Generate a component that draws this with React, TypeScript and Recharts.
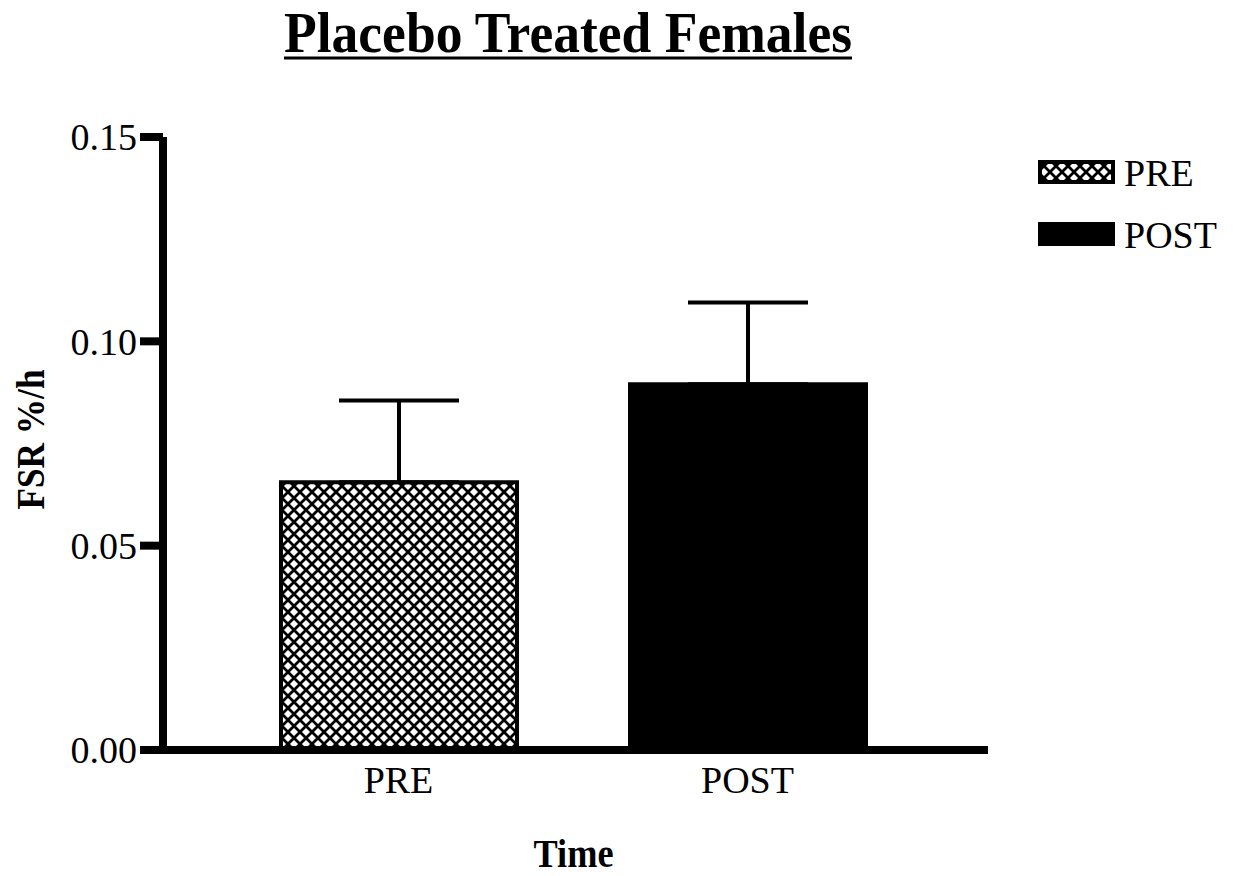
import React from 'react';
import { BarChart, Bar, XAxis, YAxis, ErrorBar, Legend, Cell } from 'recharts';

const categories = ['PRE', 'POST'];
const means = [0.0655, 0.0895];
const errors = [0.020, 0.020];
const yTicks = [0, 0.05, 0.1, 0.15];
const fills = ['url(#crosshatch)', '#000000'];

const data = categories.map((c, i) => ({ name: c, value: means[i], err: [0, errors[i]] }));

const FONT = '"Liberation Serif", "Times New Roman", serif';

const LegendContent = () => (
  <div style={{ fontFamily: FONT }}>
    {categories.map((c, i) => (
      <div key={c} style={{ display: 'flex', alignItems: 'center', height: 62 }}>
        <svg width={78} height={26} style={{ display: 'block' }}>
          <rect x={2} y={2} width={73} height={20} fill={fills[i]} stroke="#000" strokeWidth={4} />
        </svg>
        <span style={{ fontSize: 38, marginLeft: 8, color: '#000', lineHeight: '38px' }}>{c}</span>
      </div>
    ))}
  </div>
);

export default function App() {
  return (
    <div style={{ position: 'absolute', left: 0, top: 0, width: 1240, height: 876, background: '#fff' }}>
      <svg width={0} height={0} style={{ position: 'absolute' }}>
        <defs>
          <pattern id="crosshatch" patternUnits="userSpaceOnUse" width={12} height={12}>
            <rect width={12} height={12} fill="#fff" />
            <path d="M-3,-3 L15,15 M15,-3 L-3,15" stroke="#000" strokeWidth={2.8} />
          </pattern>
        </defs>
      </svg>
      <BarChart
        width={1240}
        height={876}
        data={data}
        margin={{ top: 137, right: 52, bottom: 96, left: 43 }}
        barSize={236}
      >
        <XAxis
          dataKey="name"
          height={30}
          axisLine={{ stroke: '#000', strokeWidth: 8 }}
          tickLine={false}
          tickMargin={10}
          padding={{ left: 61, right: 66 }}
          tick={{ fontSize: 38, fill: '#000', fontFamily: FONT }}
          label={{
            content: (props: any) => {
              const vb = props.viewBox || { x: 163, y: 750, width: 825, height: 0 };
              return (
                <text
                  x={vb.x + vb.width / 2 - 2}
                  y={867}
                  textAnchor="middle"
                  fontFamily={FONT}
                  fontWeight="bold"
                  fontSize={39}
                  fill="#000"
                  textLength={80}
                  lengthAdjust="spacingAndGlyphs"
                >
                  Time
                </text>
              );
            },
          }}
        />
        <YAxis
          width={120}
          domain={[0, 0.15]}
          ticks={yTicks}
          interval={0}
          tickFormatter={(v: number) => v.toFixed(2)}
          axisLine={{ stroke: '#000', strokeWidth: 8 }}
          tickLine={{ stroke: '#000', strokeWidth: 8 }}
          tickSize={23}
          tickMargin={3}
          tick={{ fontSize: 38, fill: '#000', fontFamily: FONT }}
          label={{
            content: (props: any) => {
              const vb = props.viewBox || { x: 43, y: 137, width: 120, height: 613 };
              const cx = 30;
              const cy = vb.y + vb.height / 2 - 4;
              return (
                <text
                  x={cx}
                  y={cy}
                  transform={`rotate(-90, ${cx}, ${cy})`}
                  textAnchor="middle"
                  dominantBaseline="central"
                  fontFamily={FONT}
                  fontWeight="bold"
                  fontSize={40}
                  fill="#000"
                  textLength={140}
                  lengthAdjust="spacingAndGlyphs"
                >
                  FSR %/h
                </text>
              );
            },
          }}
        />
        <Legend
          layout="vertical"
          verticalAlign="top"
          align="right"
          content={<LegendContent />}
          wrapperStyle={{ position: 'absolute', left: 1038, top: 142, width: 200 }}
        />
        <Bar dataKey="value" stroke="#000" strokeWidth={4} isAnimationActive={false}>
          {data.map((d, i) => (
            <Cell key={d.name} fill={fills[i]} />
          ))}
          <ErrorBar dataKey="err" width={60} stroke="#000" strokeWidth={4} direction="y" />
        </Bar>
      </BarChart>
      <svg width={1240} height={90} style={{ position: 'absolute', left: 0, top: 0, pointerEvents: 'none' }}>
        <text
          x={568}
          y={52}
          textAnchor="middle"
          fontFamily={FONT}
          fontWeight="bold"
          fontSize={58}
          fill="#000"
          textLength={568}
          lengthAdjust="spacingAndGlyphs"
        >
          Placebo Treated Females
        </text>
        <line x1={284} y1={58} x2={852} y2={58} stroke="#000" strokeWidth={3} />
      </svg>
    </div>
  );
}
